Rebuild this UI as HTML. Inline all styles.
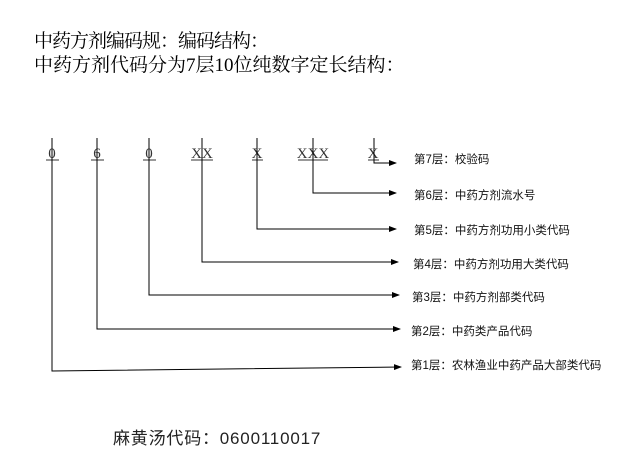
<!DOCTYPE html>
<html><head><meta charset="utf-8"><style>
body{margin:0;width:640px;height:467px;background:#fff;overflow:hidden;position:relative}
.t{position:absolute;left:34px;font:19px "Liberation Serif","Noto Serif CJK SC",serif;color:#000;white-space:nowrap}
.l{position:absolute;font:11.5px "Liberation Sans","Noto Sans CJK SC",sans-serif;color:#111;white-space:nowrap}
</style></head><body>
<div class="t" style="top:26px;letter-spacing:-1px">中药方剂编码规：编码结构：</div>
<div class="t" style="top:50px">中药方剂代码分为7层10位纯数字定长结构：</div>
<svg width="640" height="467" style="position:absolute;left:0;top:0">
<defs><marker id="a" markerWidth="8" markerHeight="6" refX="7" refY="3" orient="auto" markerUnits="userSpaceOnUse"><path d="M0,0L8,3L0,6z" fill="#000"/></marker></defs>
<g font-family="Liberation Serif" font-size="15" text-anchor="middle" fill="#333">
<text x="52" y="158">0</text><text x="97" y="158">6</text><text x="149" y="158">0</text>
<text x="202" y="158">XX</text><text x="257" y="158">X</text><text x="313" y="158">XXX</text><text x="373" y="158">X</text>
</g>
<g stroke="#333" stroke-width="1">
<line x1="46" y1="160" x2="59" y2="160"/><line x1="91" y1="160" x2="104" y2="160"/><line x1="143" y1="160" x2="156" y2="160"/>
<line x1="191" y1="160" x2="213" y2="160"/><line x1="252" y1="160" x2="263" y2="160"/><line x1="298" y1="160" x2="328" y2="160"/><line x1="368" y1="160" x2="379" y2="160"/>
</g>
<g stroke="#000" stroke-width="1" fill="none" marker-end="url(#a)">
<polyline points="374,138 374,163 396,163"/>
<polyline points="313,138 313,193 396,193"/>
<polyline points="257,138 257,229 396,229"/>
<polyline points="202,138 202,262 398,262"/>
<polyline points="149,138 149,295 399,295"/>
<polyline points="97,138 97,329 400,329"/>
<polyline points="52,138 52,371 401,367"/>
</g>
</svg>
<div class="l" style="left:414px;top:151px">第7层：校验码</div>
<div class="l" style="left:414px;top:187px">第6层：中药方剂流水号</div>
<div class="l" style="left:414px;top:222px">第5层：中药方剂功用小类代码</div>
<div class="l" style="left:413px;top:256px">第4层：中药方剂功用大类代码</div>
<div class="l" style="left:412px;top:289px">第3层：中药方剂部类代码</div>
<div class="l" style="left:411px;top:323px">第2层：中药类产品代码</div>
<div class="l" style="left:411px;top:357px">第1层：农林渔业中药产品大部类代码</div>
<div style="position:absolute;left:113px;top:424px;font:17px 'Liberation Sans','Noto Sans CJK SC',sans-serif;letter-spacing:0.8px;color:#222;white-space:nowrap">麻黄汤代码：0600110017</div>
</body></html>
